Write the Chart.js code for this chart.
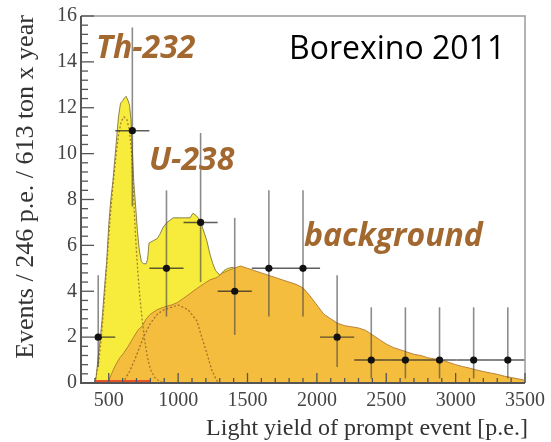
<!DOCTYPE html>
<html>
<head>
<meta charset="utf-8">
<script src="https://cdn.jsdelivr.net/npm/chart.js@4.4.1/dist/chart.umd.min.js"></script>
<style>
  html, body { margin: 0; padding: 0; background: #ffffff; }
  #wrap { position: relative; width: 551px; height: 442px; }
</style>
</head>
<body>
<div id="wrap"><canvas id="c" width="551" height="442"></canvas></div>
<script>
// ---------- data ----------
const xTicks = [500, 1000, 1500, 2000, 2500, 3000, 3500];
const yTicks = [0, 2, 4, 6, 8, 10, 12, 14, 16];

// measured data points (bin centres, counts, asymmetric errors, bin edges)
const dataX    = [424, 670, 916, 1162, 1408, 1654, 1900, 2146, 2392, 2638, 2884, 3130, 3376];
const dataY    = [2, 11, 5, 7, 4, 5, 5, 2, 1, 1, 1, 1, 1];
const dataLow  = [0.7, 7.7, 2.9, 4.4, 2.1, 2.9, 2.9, 0.7, 0.2, 0.2, 0.2, 0.2, 0.2];
const dataHigh = [4.7, 15.5, 8.4, 10.9, 7.2, 8.4, 8.4, 4.7, 3.3, 3.3, 3.3, 3.3, 3.3];
const dataXMin = [395, 547, 793, 1039, 1285, 1531, 1777, 2023, 2269, 2515, 2761, 3007, 3253];
const dataXMax = [547, 793, 1039, 1285, 1531, 1777, 2023, 2269, 2515, 2761, 3007, 3253, 3499];

// total fit (yellow)
const totalX = [300, 400, 410, 425, 440, 455, 470, 485, 500, 515, 530, 550, 570, 585, 600, 610, 625, 640, 650, 660, 670, 680, 695, 707, 720, 735, 750, 770, 780, 790, 820, 850, 870, 893, 920, 964, 1000, 1050, 1086, 1107, 1130, 1157, 1180, 1207, 1230, 1250, 1270, 1300, 1330, 1360, 1400];
const totalY = [0, 0, 0.3, 1.2, 2.0, 3.0, 4.2, 5.3, 6.9, 8.0, 8.8, 10.2, 11.6, 12.2, 12.3, 12.4, 12.5, 12.3, 12.1, 11.5, 10.2, 8.8, 7.6, 6.6, 5.8, 5.3, 5.2, 5.2, 5.4, 6.1, 6.2, 6.3, 6.5, 6.8, 7.0, 7.2, 7.2, 7.2, 7.2, 7.4, 7.3, 7.1, 6.7, 6.2, 5.6, 5.2, 4.9, 4.7, 4.9, 5.0, 5.05];

// background (orange)
const bgX = [300, 480, 500, 520, 550, 580, 607, 640, 679, 710, 743, 770, 800, 850, 893, 950, 993, 1040, 1086, 1130, 1179, 1230, 1280, 1321, 1360, 1400, 1450, 1500, 1550, 1600, 1650, 1700, 1750, 1800, 1850, 1900, 1950, 2000, 2050, 2100, 2150, 2200, 2250, 2300, 2350, 2400, 2450, 2500, 2550, 2600, 2650, 2700, 2750, 2800, 2850, 2900, 2950, 3000, 3050, 3100, 3150, 3200, 3250, 3300, 3350, 3400, 3450, 3500];
const bgY = [0, 0, 0.1, 0.4, 0.8, 1.1, 1.3, 1.6, 2.0, 2.3, 2.5, 2.8, 3.0, 3.2, 3.3, 3.4, 3.5, 3.7, 3.9, 4.1, 4.3, 4.5, 4.6, 4.8, 4.9, 5.0, 5.1, 5.0, 4.9, 4.8, 4.7, 4.6, 4.5, 4.4, 4.3, 4.15, 3.8, 3.4, 3.0, 2.8, 2.6, 2.5, 2.45, 2.4, 2.3, 2.1, 1.9, 1.7, 1.55, 1.45, 1.35, 1.25, 1.2, 1.1, 1.05, 1.0, 0.9, 0.8, 0.72, 0.65, 0.57, 0.5, 0.44, 0.38, 0.3, 0.24, 0.18, 0.12];

// Th-232 component (dashed)
const thX = [400, 430, 450, 470, 490, 510, 530, 550, 570, 590, 610, 630, 650, 665, 680, 695, 710, 725, 740, 760, 780, 800, 830, 860, 900];
const thY = [0, 1.0, 2.2, 3.8, 5.5, 7.2, 8.6, 9.8, 10.8, 11.4, 11.6, 11.5, 11.0, 10.0, 8.0, 6.2, 4.8, 3.7, 2.8, 1.8, 1.1, 0.6, 0.25, 0.1, 0];

// U-238 component (dashed)
const uX = [600, 650, 700, 750, 800, 850, 900, 950, 1000, 1071, 1136, 1170, 1207, 1240, 1279, 1300];
const uY = [0, 0.5, 1.2, 2.0, 2.6, 3.0, 3.2, 3.3, 3.4, 3.2, 2.7, 2.0, 1.3, 0.6, 0.1, 0];

// small red component along the axis
const redX = [405, 800];
const redY = [0.08, 0.08];

// ---------- helpers ----------
const toXY = (xs, ys) => xs.map((x, i) => ({ x: x, y: ys[i] }));
const brown = '#a2682f';

const errorBars = {
  id: 'errorBars',
  beforeDatasetDraw(chart, args) {
    if (args.index !== 0) return;
    const xs = chart.scales.x, ys = chart.scales.y, ctx = chart.ctx;
    ctx.save();
    ctx.lineCap = 'butt';
    for (let i = 0; i < dataX.length; i++) {
      const px = xs.getPixelForValue(dataX[i]);
      const py = ys.getPixelForValue(dataY[i]);
      ctx.strokeStyle = 'rgba(70,70,70,0.62)';
      ctx.lineWidth = 1.6;
      ctx.beginPath();
      ctx.moveTo(px, ys.getPixelForValue(dataLow[i]));
      ctx.lineTo(px, ys.getPixelForValue(dataHigh[i]));
      ctx.stroke();
      ctx.strokeStyle = 'rgba(40,40,40,0.75)';
      ctx.lineWidth = 1.4;
      ctx.beginPath();
      ctx.moveTo(Math.max(xs.getPixelForValue(dataXMin[i]), chart.chartArea.left), py);
      ctx.lineTo(xs.getPixelForValue(dataXMax[i]), py);
      ctx.stroke();
    }
    ctx.restore();
  }
};

const frame = {
  id: 'frame',
  afterDatasetsDraw(chart) {
    const { ctx, chartArea: a, scales } = chart;
    ctx.save();
    ctx.strokeStyle = '#9a9a9a';
    ctx.lineWidth = 1.5;
    ctx.beginPath();
    ctx.moveTo(a.left, a.top); ctx.lineTo(a.right, a.top); ctx.lineTo(a.right, a.bottom);
    ctx.stroke();
    ctx.strokeStyle = '#555';
    ctx.lineWidth = 2;
    ctx.beginPath();
    ctx.moveTo(a.left, a.top); ctx.lineTo(a.left, a.bottom); ctx.lineTo(a.right, a.bottom);
    ctx.stroke();
    ctx.lineWidth = 1.3;
    ctx.strokeStyle = '#555';
    for (let v = 0; v <= 16.001; v += 0.4) {
      const major = Math.abs(v / 2 - Math.round(v / 2)) < 1e-6;
      const py = scales.y.getPixelForValue(v);
      ctx.beginPath();
      ctx.moveTo(a.left, py); ctx.lineTo(a.left + (major ? 13 : 7), py);
      ctx.stroke();
    }
    for (let v = 400; v <= 3500; v += 100) {
      const major = v % 500 === 0;
      const px = scales.x.getPixelForValue(v);
      ctx.beginPath();
      ctx.moveTo(px, a.bottom); ctx.lineTo(px, a.bottom - (major ? 10 : 5));
      ctx.stroke();
    }
    ctx.restore();
  },
  afterDraw(chart) {
    const ctx = chart.ctx;
    ctx.save();
    ctx.fillStyle = '#333';
    ctx.font = '24px "Liberation Serif"';
    ctx.textAlign = 'right';
    ctx.textBaseline = 'alphabetic';
    ctx.fillText('Light yield of prompt event [p.e.]', 528, 435);
    ctx.translate(33, 187);
    ctx.rotate(-Math.PI / 2);
    ctx.textAlign = 'center';
    ctx.font = '26px "Liberation Serif"';
    ctx.fillText('Events / 246 p.e. / 613 ton x year', 0, 0);
    ctx.restore();

    ctx.save();
    ctx.textBaseline = 'alphabetic';
    ctx.textAlign = 'left';
    ctx.fillStyle = brown;
    ctx.font = 'italic bold 32px "Open Sans"';
    ctx.fillText('Th-232', 96, 58);
    ctx.fillText('U-238', 149, 170);
    ctx.fillText('background', 304, 246);
    ctx.fillStyle = '#000';
    ctx.font = '32px "Open Sans"';
    ctx.fillText('Borexino 2011', 289, 59);
    ctx.restore();
  }
};

const ctx = document.getElementById('c').getContext('2d');
new Chart(ctx, {
  type: 'line',
  data: {
    datasets: [
      {
        label: 'data',
        data: toXY(dataX, dataY),
        showLine: false,
        pointRadius: 3.6,
        pointBackgroundColor: '#111',
        pointBorderColor: '#111',
        pointBorderWidth: 0
      },
      {
        label: 'Th-232',
        data: toXY(thX, thY),
        borderColor: 'rgba(150,110,40,0.85)',
        borderWidth: 1.3,
        borderDash: [2, 2],
        pointRadius: 0,
        fill: false
      },
      {
        label: 'U-238',
        data: toXY(uX, uY),
        borderColor: 'rgba(150,100,40,0.85)',
        borderWidth: 1.3,
        borderDash: [2, 2],
        pointRadius: 0,
        fill: false
      },
      {
        label: 'other',
        data: toXY(redX, redY),
        borderColor: '#e4512a',
        borderWidth: 2.2,
        pointRadius: 0,
        fill: false
      },
      {
        label: 'background',
        data: toXY(bgX, bgY),
        borderColor: 'rgba(170,110,40,0.8)',
        borderWidth: 1,
        backgroundColor: '#f4bd3d',
        pointRadius: 0,
        fill: 'origin'
      },
      {
        label: 'total',
        data: toXY(totalX, totalY),
        borderColor: 'rgba(120,110,60,0.85)',
        borderWidth: 1,
        backgroundColor: '#f7ec3c',
        pointRadius: 0,
        fill: 'origin'
      }
    ]
  },
  options: {
    responsive: false,
    animation: false,
    events: [],
    layout: { padding: { left: 0, right: 23, top: 15, bottom: 0 } },
    plugins: { legend: { display: false }, tooltip: { enabled: false } },
    elements: { line: { tension: 0 } },
    scales: {
      x: {
        type: 'linear',
        min: 300,
        max: 3500,
        afterBuildTicks: (s) => { s.ticks = xTicks.map(v => ({ value: v })); },
        afterFit: (s) => { s.height = 59; },
        grid: { display: false, drawTicks: false },
        border: { display: false },
        ticks: {
          padding: 6,
          maxRotation: 0,
          autoSkip: false,
          color: '#444',
          font: { family: 'Liberation Serif', size: 20 },
          callback: (v) => String(v)
        }
      },
      y: {
        type: 'linear',
        min: 0,
        max: 16,
        afterBuildTicks: (s) => { s.ticks = yTicks.map(v => ({ value: v })); },
        afterFit: (s) => { s.width = 81; },
        grid: { display: false, drawTicks: false },
        border: { display: false },
        ticks: {
          padding: 4,
          color: '#444',
          font: { family: 'Liberation Serif', size: 20 },
          callback: (v) => String(v)
        }
      }
    }
  },
  plugins: [errorBars, frame]
});
</script>
</body>
</html>
